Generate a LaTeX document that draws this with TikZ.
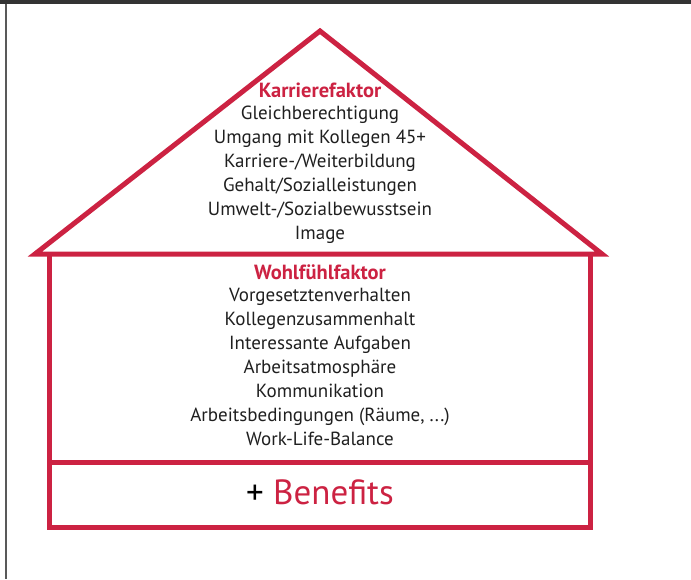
\documentclass[tikz,border=0pt]{standalone}
\usepackage{fontspec}
\setmainfont{PT Sans}
\usetikzlibrary{positioning}
\definecolor{houseRed}{RGB}{204,34,66}

\begin{document}
\begin{tikzpicture}[x=1pt, y=-1pt,
  node distance=0pt,
  wall/.style={draw=houseRed, line width=5pt, line join=miter},
  head/.style={font=\fontsize{20.5}{24}\selectfont\bfseries, text=houseRed,
               inner sep=0pt},
  items/.style={font=\fontsize{19}{24}\selectfont, align=center,
                inner sep=0pt, text=black!88}]
\useasboundingbox (0,0) rectangle (691,579);
% dark edge of the scanned page
\fill[black!80] (0,0) rectangle (691,4);
\draw[black!65, line width=1.5pt] (6,4) -- (6,579);
% roof
\draw[wall] (35,254) -- (320,31) -- (602,254) -- cycle;
% walls and floor
\draw[wall] (49,254) -- (49,527) -- (590,527) -- (590,254);
\draw[wall] (49,462) -- (590,462);
% upper floor
\node[head] (karriere) at (320,90) {Karrierefaktor};
\node[items, below=8pt of karriere] (karriereList) {Gleichberechtigung\\
  Umgang mit Kollegen 45+\\Karriere-/Weiterbildung\\Gehalt/Sozialleistungen\\
  Umwelt-/Sozialbewusstsein\\Image};
% ground floor
\node[head] (wohlfuehl) at (320,272) {Wohlfühlfaktor};
\node[items, below=8pt of wohlfuehl] (wohlfuehlList) {Vorgesetztenverhalten\\
  Kollegenzusammenhalt\\Interessante Aufgaben\\Arbeitsatmosphäre\\
  Kommunikation\\Arbeitsbedingungen (Räume, ...)\\Work-Life-Balance};
% basement
\node[font=\fontsize{35}{40}\selectfont, inner sep=0pt] (benefits) at (320,492)
  {+ \textcolor{houseRed}{Benefits}};
\end{tikzpicture}
\end{document}
